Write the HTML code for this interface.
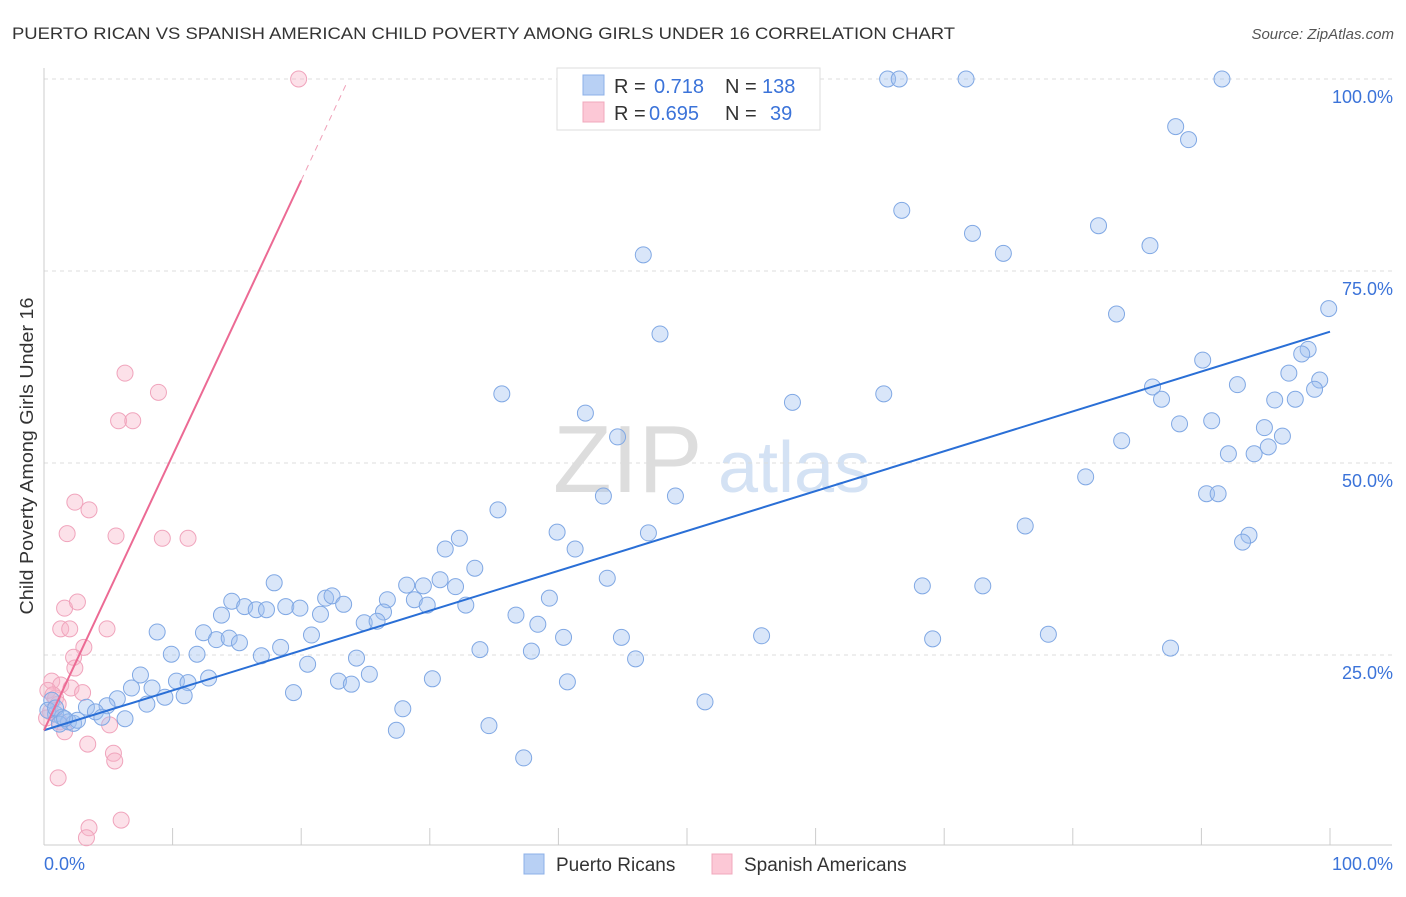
<!DOCTYPE html>
<html><head><meta charset="utf-8"><style>
body{margin:0;background:#fff;font-family:"Liberation Sans",sans-serif}
svg text{font-family:"Liberation Sans",sans-serif}
</style></head><body>
<svg id="chart" width="1406" height="892" xmlns="http://www.w3.org/2000/svg">
<text x="12" y="39" font-size="17" fill="#333" textLength="943" lengthAdjust="spacingAndGlyphs">PUERTO RICAN VS SPANISH AMERICAN CHILD POVERTY AMONG GIRLS UNDER 16 CORRELATION CHART</text>
<text x="1394" y="39" font-size="15" fill="#555" font-style="italic" text-anchor="end">Source: ZipAtlas.com</text>
<g>
<text x="553" y="492" font-family="Liberation Serif,serif" font-size="96" fill="#ddd">ZIP</text>
<text x="718" y="492" font-size="72" fill="#d4e2f4">atlas</text>
</g>
<g id="grid"></g>
<g id="axes"></g>
<g id="marks"></g>
<text x="33" y="456" font-size="18" fill="#333" text-anchor="middle" textLength="317" lengthAdjust="spacingAndGlyphs" transform="rotate(-90 33 456)">Child Poverty Among Girls Under 16</text>
<text x="44" y="870" font-size="18" fill="#3b73d9">0.0%</text>
<text x="1393" y="870" font-size="18" fill="#3b73d9" text-anchor="end">100.0%</text>
<g>
<rect x="557" y="68" width="263" height="62" fill="#fff" stroke="#ddd"/>
<rect x="583" y="75" width="21" height="20" fill="#b8d0f4" stroke="#8cb0e8"/>
<rect x="583" y="102" width="21" height="20" fill="#fcc8d6" stroke="#f0a8bc"/>
<text x="614" y="93" font-size="20" fill="#333">R = </text><text x="654" y="93" font-size="20" fill="#3b73d9">0.718</text>
<text x="725" y="93" font-size="20" fill="#333">N = </text><text x="762" y="93" font-size="20" fill="#3b73d9">138</text>
<text x="614" y="120" font-size="20" fill="#333">R = </text><text x="649" y="120" font-size="20" fill="#3b73d9">0.695</text>
<text x="725" y="120" font-size="20" fill="#333">N = </text><text x="770" y="120" font-size="20" fill="#3b73d9">39</text>
</g>
<g>
<rect x="524" y="854" width="20" height="20" fill="#b8d0f4" stroke="#8cb0e8"/>
<text x="556" y="871" font-size="19" fill="#333">Puerto Ricans</text>
<rect x="712" y="854" width="20" height="20" fill="#fcc8d6" stroke="#f0a8bc"/>
<text x="744" y="871" font-size="19" fill="#333">Spanish Americans</text>
</g>
</svg>
<script>
const blueX=[65.6,66.5,71.7,91.6,88.0,89.0,66.7,72.2,82.0,86.0,74.6,46.6,83.4,99.9,47.9,98.3,97.8,90.1,96.8,99.2,86.2,86.9,92.8,95.7,97.3,98.8,35.6,58.2,65.3,42.1,88.3,90.8,94.9,96.3,83.8,44.6,95.2,92.1,94.1,81.0,43.5,49.1,90.4,91.3,35.3,76.3,39.9,47.0,32.3,93.7,93.2,41.3,31.2,33.5,17.9,28.2,29.5,30.8,32.0,43.8,68.3,73.0,14.6,15.6,16.5,17.3,18.8,19.9,21.9,22.4,23.3,26.7,28.8,29.8,32.8,39.3,13.8,21.5,26.4,24.9,25.9,36.7,38.4,8.8,12.4,20.8,13.4,14.4,15.2,40.4,44.9,55.8,69.1,78.1,87.6,33.9,37.9,9.9,11.9,16.9,18.4,24.3,20.5,46.0,7.5,10.3,11.2,12.8,22.9,23.9,25.3,30.2,40.7,6.8,8.4,9.4,10.9,8.0,5.7,4.9,3.3,4.0,4.5,6.3,19.4,27.9,51.4,27.4,34.6,37.3,0.6,0.9,1.4,1.9,2.3,2.6,1.2,0.3,0.9,1.6];
const blueY=[100,100,100,100,93.8,92.1,82.9,79.9,80.9,78.3,77.3,77.1,69.4,70.1,66.8,64.8,64.2,63.4,61.7,60.8,59.9,58.3,60.2,58.2,58.3,59.6,59.0,57.9,59.0,56.5,55.1,55.5,54.6,53.5,52.9,53.4,52.1,51.2,51.2,48.2,45.7,45.7,46.0,46.0,43.9,41.8,41.0,40.9,40.2,40.6,39.7,38.8,38.8,36.3,34.4,34.1,34.0,34.8,33.9,35.0,34.0,34.0,32.0,31.3,30.9,30.9,31.3,31.1,32.4,32.7,31.6,32.2,32.2,31.5,31.5,32.4,30.2,30.3,30.6,29.2,29.4,30.2,29.0,28.0,27.9,27.6,27.0,27.2,26.6,27.3,27.3,27.5,27.1,27.7,25.9,25.7,25.5,25.1,25.1,24.9,26.0,24.6,23.8,24.5,22.4,21.6,21.4,22.0,21.6,21.2,22.5,21.9,21.5,20.7,20.7,19.5,19.7,18.6,19.3,18.4,18.2,17.6,16.9,16.7,20.1,18.0,18.9,15.2,15.8,11.6,19.1,17.3,16.9,16.3,16.1,16.5,16.0,17.8,18.1,16.7];
const pinkX=[19.8,6.3,8.9,5.8,6.9,2.4,3.5,1.8,5.6,9.2,11.2,1.6,2.6,1.3,2.0,4.9,3.1,2.3,2.4,0.6,1.3,2.1,3.0,0.3,0.9,1.1,0.5,0.2,1.2,1.6,5.1,3.4,5.4,5.5,1.1,3.5,6.0,3.3,0.7];
const pinkY=[100,61.7,59.2,55.5,55.5,44.9,43.9,40.8,40.5,40.2,40.2,31.1,31.9,28.4,28.4,28.4,26.0,24.7,23.3,21.6,21.1,20.7,20.1,20.4,19.4,18.6,17.6,16.8,16.3,15.0,15.9,13.4,12.2,11.2,9.0,2.5,3.5,1.2,19.8];
const trendBlue=[15.2,0.519];   // intercept, slope
const trendPink=[15.2,3.58];
const yTicks=[25,50,75,100];
const yTickLabels=["25.0%","50.0%","75.0%","100.0%"];
const xTicks=[0,10,20,30,40,50,60,70,80,90,100];

const NS="http://www.w3.org/2000/svg";
const sx=v=>44+v*12.86, sy=v=>847-v*7.68;
function mk(tag,attrs,parent){const e=document.createElementNS(NS,tag);for(const k in attrs)e.setAttribute(k,attrs[k]);document.getElementById(parent).appendChild(e);return e;}
yTicks.forEach((t,i)=>{
 const g=mk('line',{x1:44,x2:1392,y1:sy(t),y2:sy(t),stroke:'#ddd','stroke-dasharray':'4,4'},'grid');
 
 
 const l=mk('text',{x:1393,y:sy(t)+24,'font-size':18,fill:'#3b73d9','text-anchor':'end'},'grid');
 l.textContent=yTickLabels[i];
 
 
});
const ax=mk('line',{x1:44,x2:1392,y1:845,y2:845,stroke:'#ccc'},'axes');


const ay=mk('line',{x1:44,x2:44,y1:68,y2:845,stroke:'#ccc'},'axes');


xTicks.forEach(t=>{
 const k=mk('line',{x1:sx(t),x2:sx(t),y1:828,y2:845,stroke:'#ccc'},'axes');
 
 
});
pinkX.forEach((x,i)=>{
 const c=mk('circle',{cx:sx(x),cy:sy(pinkY[i]),r:8,fill:'rgba(248,180,200,0.4)',stroke:'#f0a4bc','stroke-width':1},'marks');
 
 
});
blueX.forEach((x,i)=>{
 const c=mk('circle',{cx:sx(x),cy:sy(blueY[i]),r:8,fill:'rgba(160,192,240,0.4)',stroke:'#80a8e4','stroke-width':1},'marks');
 
 
});
const tb=mk('line',{x1:sx(0),y1:sy(trendBlue[0]),x2:sx(100),y2:sy(trendBlue[0]+trendBlue[1]*100),stroke:'#2a6fd6','stroke-width':2},'marks');


const tp=mk('line',{x1:sx(0),y1:sy(trendPink[0]),x2:sx(20),y2:sy(trendPink[0]+trendPink[1]*20),stroke:'#ec6a94','stroke-width':2},'marks');


const td=mk('line',{x1:sx(20),y1:sy(trendPink[0]+trendPink[1]*20),x2:sx(23.6),y2:sy(trendPink[0]+trendPink[1]*23.6),stroke:'#f0a0b8','stroke-width':1,'stroke-dasharray':'6,5'},'marks');


</script>
</body></html>
